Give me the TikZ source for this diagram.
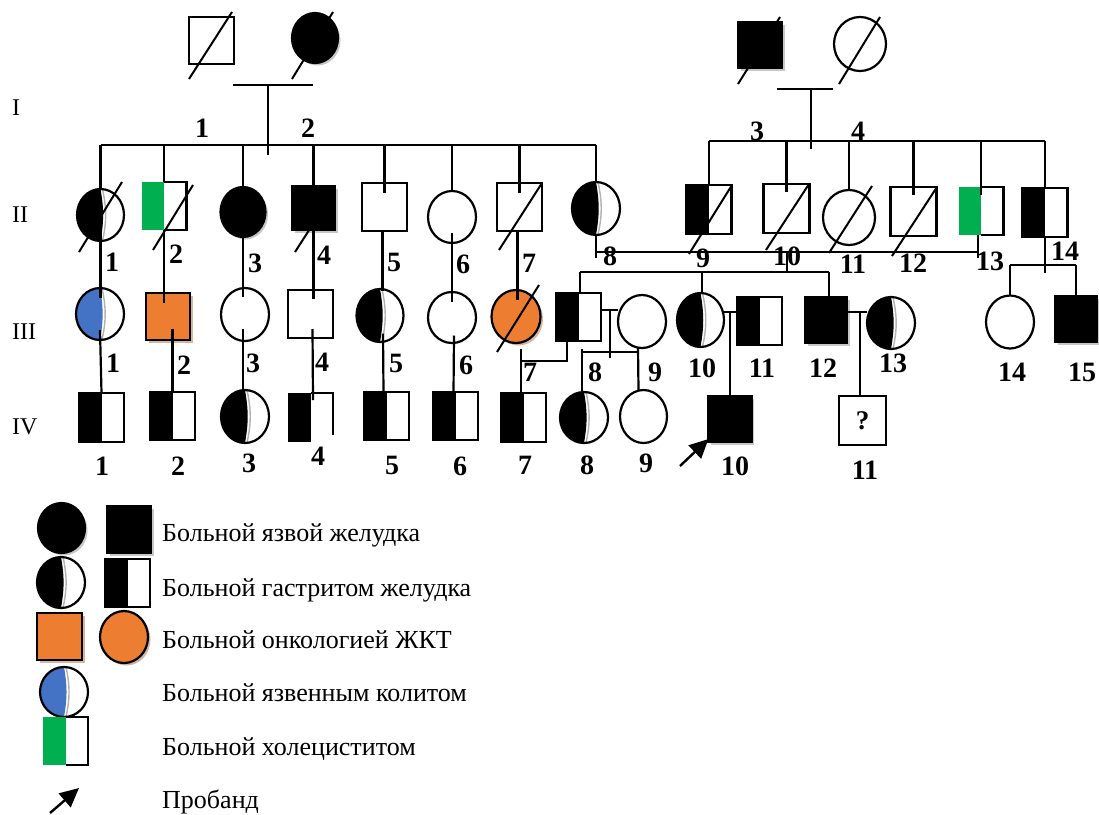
\documentclass[tikz,border=0pt]{standalone}
\usepackage{fontspec}
\setmainfont{Liberation Serif}
\usetikzlibrary{calc,shapes.geometric,shadows,arrows.meta}
\definecolor{orng}{RGB}{237,125,49}
\definecolor{blu}{RGB}{68,114,196}
\definecolor{grn}{RGB}{0,176,80}
\definecolor{shtan}{RGB}{215,182,158}
\tikzset{
  lw/.style={line width=2.2pt},
  ind/.style={draw=black, line width=2.2pt, inner sep=0pt, outer sep=0pt},
  sq/.style={ind, rectangle, minimum width=45pt, minimum height=48pt},
  ci/.style={ind, ellipse, minimum width=48pt, minimum height=52pt},
  shd/.style={general shadow={fill=black!22, shadow xshift=2.5pt, shadow yshift=-2.5pt}},
  shdtan/.style={general shadow={fill=shtan, shadow xshift=2.5pt, shadow yshift=-2.5pt}},
  blk/.style={fill=black, shd},
  org/.style={fill=orng, shdtan},
  half/.style={fill=white, path picture={\fill[black] (path picture bounding box.south west) rectangle (path picture bounding box.north);}},
  gast/.style={fill=white, path picture={
      \fill[#1] (path picture bounding box.north) to[bend left=10] (path picture bounding box.south)
         -- (path picture bounding box.south west) -- (path picture bounding box.north west) -- cycle;
      \draw[black!30, line width=1.4pt] ([xshift=2pt]path picture bounding box.north) to[bend left=12] ([xshift=2pt]path picture bounding box.south);}},
  gast/.default=black,
  grnhalf/.style={rectangle, inner sep=0pt, outer sep=0pt, minimum width=45pt, minimum height=48pt,
      path picture={\fill[grn] (path picture bounding box.south west) rectangle (path picture bounding box.north);}},
  num/.style={font=\bfseries\fontsize{28}{28}\selectfont, inner sep=0pt},
  gen/.style={font=\fontsize{24}{24}\selectfont, inner sep=0pt, anchor=west},
  leg/.style={font=\fontsize{26}{30}\selectfont, inner sep=0pt, anchor=base west},
  slash/.style={line width=2pt},
  prob/.style={line width=2.4pt, -{Triangle[length=19pt,width=18pt]}}
}
\begin{document}
\begin{tikzpicture}[x=1pt,y=-1pt]
\useasboundingbox (0,0) rectangle (1099,814);

% ---------------- Generation I ----------------
\node[sq, minimum width=45pt, minimum height=47pt] (i1) at (211.5,40.5) {};
\node[ci, blk, minimum width=46pt, minimum height=50pt] (i2) at (315,38) {};
\node[sq, blk, minimum width=44pt, minimum height=46pt] (i3) at (760,45) {};
\node[ci, minimum width=52pt, minimum height=54pt] (i4) at (860,44) {};

% ---------------- Generation II ----------------
\node[ci, gast, minimum width=47pt] (ii1) at (100.5,215) {};
\node[grnhalf] (ii2) at (164,206) {};
\node[ci, blk, minimum width=45pt, minimum height=50pt] (ii3) at (243,212) {};
\node[sq, blk, minimum width=43pt, minimum height=44pt] (ii4) at (313.5,208) {};
\node[sq] (ii5) at (384.5,207) {};
\node[ci] (ii6) at (452,217) {};
\node[sq] (ii7) at (519.5,207) {};
\node[ci, gast, minimum height=53pt] (ii8) at (596,208.5) {};
\node[sq, half, minimum height=49pt] (ii9) at (709,209.5) {};
\node[sq, minimum width=46pt, minimum height=49pt] (ii10) at (786.5,208.5) {};
\node[ci, minimum width=52pt, minimum height=55pt] (ii11) at (849,217.5) {};
\node[sq, minimum width=46pt, minimum height=49pt] (ii12) at (913.5,211.5) {};
\node[grnhalf] (ii13) at (981,211) {};
\node[sq, half, minimum height=49pt] (ii14) at (1045,212.5) {};
\draw[lw] (ii2.north) -- (ii2.north east) -- (ii2.south east) -- (ii2.south);
\draw[lw] (ii13.north) -- (ii13.north east) -- (ii13.south east) -- (ii13.south);

% ---------------- Generation III ----------------
\node[ci, gast=blu] (iii1) at (100,314) {};
\node[sq, org, minimum width=44pt, minimum height=47pt] (iii2) at (168,316.5) {};
\node[ci, minimum height=53pt] (iii3) at (245,314.5) {};
\node[sq] (iii4) at (310.5,314) {};
\node[ci, gast, minimum width=47pt, minimum height=53pt] (iii5) at (380,315.5) {};
\node[ci, minimum height=51pt] (iii6) at (452,317.5) {};
\node[ci, org, minimum width=49pt, minimum height=53pt] (iii7) at (516,316.5) {};
\node[sq, half] (iii8) at (578.5,317) {};
\node[ci, minimum height=53pt] (iii9) at (642,321.5) {};
\node[ci, gast, minimum width=47pt, minimum height=54pt] (iii10) at (700.5,320) {};
\node[sq, half] (iii11) at (759.5,321) {};
\node[sq, blk, minimum width=42pt, minimum height=46pt] (iii12) at (826,320) {};
\node[ci, gast] (iii13) at (891,323) {};
\node[ci, minimum height=53pt] (iii14) at (1010,322) {};
\node[sq, blk, minimum width=42pt, minimum height=46pt] (iii15) at (1076,319) {};

% ---------------- Generation IV ----------------
\node[sq, half, minimum height=49pt] (iv1) at (101.5,417.5) {};
\node[sq, half] (iv2) at (172.5,416) {};
\node[ci, gast, minimum height=53pt] (iv3) at (245,416.5) {};
\node[fill=black, inner sep=0pt, outer sep=0pt, minimum width=23pt, minimum height=49pt] (iv4) at (299.5,417.5) {};
\node[sq, half] (iv5) at (386.5,416) {};
\node[sq, half] (iv6) at (455.5,416) {};
\node[sq, half, minimum height=49pt] (iv7) at (523.5,417.5) {};
\node[ci, gast, minimum height=51pt] (iv8) at (584,417.5) {};
\node[ci, minimum width=47pt, minimum height=53pt] (iv9) at (643.5,416.5) {};
\node[sq, blk, minimum width=43pt, minimum height=46pt] (iv10) at (730,419) {};
\node[sq, minimum width=47pt, minimum height=49pt, font=\bfseries\fontsize{27}{27}\selectfont] (iv11) at (862.5,420.5) {?};
\draw[lw] (iv4.north east) -- ++(22,0) -- ++(0,42);

% ---------------- slashes (deceased) ----------------
\draw[slash] (189,79) -- (232,12);
\draw[slash] (292,79) -- (333,12);
\draw[slash] (738,84) -- (780,17);
\draw[slash] (839,84) -- (880,17);
\draw[slash] (79,252) -- (122,182);
\draw[slash] (153,250) -- (193,185);
\draw[slash] (295,252) -- (322,210);
\draw[slash] (499,250) -- (542,183);
\draw[slash] (689,254) -- (732,185);
\draw[slash] (766,250) -- (809,184);
\draw[slash] (829,253) -- (872,186);
\draw[slash] (892,256) -- (937,187);
\draw[slash] (497,352) -- (539,285);

% ---------------- lines: family 1-2 ----------------
\coordinate (c1L) at (233,85);
\coordinate (c1R) at (313,85);
\coordinate (c1m) at (268,85);
\coordinate (c1d) at (268,155);
\draw[lw] (c1L) -- (c1R);
\draw[lw] (c1m) -- (c1d);
\coordinate (s1) at (268,145);
\draw[lw] (ii1 |- s1) -- (ii8 |- s1);
\draw[lw] (ii1 |- s1) -- (ii1.north);
\draw[lw] (ii2 |- s1) -- (ii2.north);
\draw[lw] (ii3 |- s1) -- (ii3.north);
\draw[lw] (ii4 |- s1) -- (ii4.north);
\draw[lw] (ii5 |- s1) -- ($(ii5.north)+(0,10)$);
\draw[lw] (ii6 |- s1) -- (ii6.north);
\draw[lw] (ii7 |- s1) -- ($(ii7.north)+(0,10)$);
\draw[lw] (ii8 |- s1) -- (ii8.north);

% ---------------- lines: family 3-4 ----------------
\coordinate (c2L) at (777,89);
\coordinate (c2R) at (833,89);
\coordinate (c2m) at (811,89);
\coordinate (c2d) at (811,149);
\draw[lw] (c2L) -- (c2R);
\draw[lw] (c2m) -- (c2d);
\coordinate (s2) at (811,141);
\draw[lw] (ii9 |- s2) -- (ii14 |- s2);
\draw[lw] (ii9 |- s2) -- (ii9.north);
\draw[lw] (ii10 |- s2) -- ($(ii10.north)+(0,8)$);
\draw[lw] (ii11 |- s2) -- (ii11.north);
\draw[lw] (ii12 |- s2) -- ($(ii12.north)+(0,8)$);
\draw[lw] (ii13 |- s2) -- ($(ii13.north)+(0,8)$);
\draw[lw] (ii14 |- s2) -- (ii14.north);

% ---------------- II -> III ----------------
\draw[lw] ($(ii1.center)+(0,7)$) -- ($(ii1.center |- iii1.north)+(0,10)$);
\draw[lw] (ii2.south) -- ($(ii2.south |- iii2.north)+(0,10)$);
\draw[lw] (ii3.south) -- ($(ii3.south |- iii3.north)+(0,9)$);
\draw[lw] (ii4.south) -- ($(ii4.south |- iii4.north)+(0,9)$);
\draw[lw] ($(ii5.south)+(-2,0)$) -- ($(ii5.south |- iii5.north)+(-2,2)$);
\draw[lw] ($(ii6.south)+(0,-10)$) -- ($(ii6.south |- iii6.north)+(0,10)$);
\draw[lw] ($(ii7.south)+(-2,0)$) -- ($(ii7.south |- iii7.north)+(-2,10)$);

% II-8 x II-13
\coordinate (m813) at (787,252);
\draw[lw] (ii8.south) -- ++(0,23);
\draw[lw] ($(ii13.south)+(-3,0)$) -- ++(0,23);
\draw[lw] (ii8 |- m813) -- ($(ii13 |- m813)+(-3,0)$);
\coordinate (s3) at (787,272);
\draw[lw] (m813) -- (s3);
\draw[lw] ($(iii8 |- s3)+(1.5,0)$) -- ($(iii12 |- s3)+(3,0)$);
\draw[lw] ($(iii8 |- s3)+(1.5,0)$) -- ($(iii8.north)+(1.5,0)$);
\draw[lw] ($(iii10 |- s3)+(1.5,0)$) -- ($(iii10.north)+(1.5,0)$);
\draw[lw] ($(iii12 |- s3)+(3,0)$) -- ($(iii12.north)+(3,0)$);

% II-14 -> III-14, III-15
\coordinate (s5) at (1045,265);
\draw[lw] (ii14.south) -- ++(0,36);
\draw[lw] (iii14 |- s5) -- (iii15 |- s5);
\draw[lw] (iii14 |- s5) -- (iii14.north);
\draw[lw] (iii15 |- s5) -- (iii15.north);

% ---------------- III -> IV ----------------
\draw[lw] ($(iii1.center)+(0,16)$) -- (iv1.north);
\draw[lw] ($(iii2.center -| iv2.north)+(0,12)$) -- (iv2.north);
\draw[lw] ($(iii3.center)+(-2,14)$) -- ($(iv3.north)+(-2,0)$);
\draw[lw] ($(iii4.center)+(2,15)$) -- ($(iv4.north east)+(2,7)$);
\draw[lw] ($(iii5.center)+(3,18)$) -- ($(iv5.north)+(-3,0)$);
\draw[lw] ($(iii6.center)+(2,18)$) -- ($(iv6.north)+(-2,0)$);

% III-7 x III-8 -> IV-7
\coordinate (m78) at (567,361);
\draw[lw] ($(iii8.south)+(-11.5,0)$) -- (m78) -- ($(iv7 |- m78)+(-2.5,0)$);
\draw[lw] ($(iv7.north)+(-2.5,-44)$) -- ($(iv7.north)+(-2.5,0)$);

% III-8 x III-9 -> IV-8, IV-9
\coordinate (m89) at (610,310);
\draw[lw] (iii8.east |- m89) -- (iii9.west |- m89);
\draw[lw] (m89) -- (610,358);
\coordinate (s4) at (610,352);
\draw[lw] ($(iv8 |- s4)+(-2,0)$) -- ($(iv9 |- s4)+(-5,0)$);
\draw[lw] ($(iv8 |- s4)+(-2,-3)$) -- ($(iv8.north)+(-2,0)$);
\draw[lw] ($(iii9.south)+(-4,0)$) -- ($(iv9.north)+(-5,0)$);

% III-10 x III-11 -> IV-10
\coordinate (m1011) at (730,312);
\draw[lw] (iii10.east |- m1011) -- (iii11.west |- m1011);
\draw[lw] (m1011) -- (iv10.north);

% III-12 x III-13 -> IV-11
\coordinate (m1213) at (860,312);
\draw[lw] (iii12.east |- m1213) -- (iii13.west |- m1213);
\draw[lw] (m1213) -- (iv11.north -| m1213);

% proband arrow
\coordinate (pa) at (680,466);
\draw[prob] (pa) -- ($(iv10.south west)+(0,-3)$);

% ---------------- generation numerals ----------------
\node[gen] (gI) at (12,108) {I};
\node[gen] (gII) at (12,215) {II};
\node[gen] (gIII) at (12,332) {III};
\node[gen] (gIV) at (12,427) {IV};

% ---------------- numbers ----------------
\node[num] (n1a) at (202,128) {1};
\node[num] (n1b) at (308,128) {2};
\node[num] (n1c) at (757,131) {3};
\node[num] (n1d) at (858,131) {4};

\node[num] (n2a) at (112,262) {1};
\node[num] (n2b) at (176,254) {2};
\node[num] (n2c) at (255,263) {3};
\node[num] (n2d) at (324,255) {4};
\node[num] (n2e) at (394,262) {5};
\node[num] (n2f) at (463,264) {6};
\node[num] (n2g) at (529,263) {7};
\node[num] (n2h) at (610,256) {8};
\node[num] (n2i) at (703,258) {9};
\node[num] (n2j) at (787,256) {10};
\node[num] (n2k) at (853,264) {11};
\node[num] (n2l) at (913,263) {12};
\node[num] (n2m) at (990,261) {13};
\node[num] (n2n) at (1065,251) {14};

\node[num] (n3a) at (113,363) {1};
\node[num] (n3b) at (184,365) {2};
\node[num] (n3c) at (253,363) {3};
\node[num] (n3d) at (322,362) {4};
\node[num] (n3e) at (396,363) {5};
\node[num] (n3f) at (466,365) {6};
\node[num] (n3g) at (530,372) {7};
\node[num] (n3h) at (595,372) {8};
\node[num] (n3i) at (655,372) {9};
\node[num] (n3j) at (702,368) {10};
\node[num] (n3k) at (762,368) {11};
\node[num] (n3l) at (823,368) {12};
\node[num] (n3m) at (893,363) {13};
\node[num] (n3n) at (1012,372) {14};
\node[num] (n3o) at (1082,372) {15};

\node[num] (n4a) at (102,466) {1};
\node[num] (n4b) at (178,466) {2};
\node[num] (n4c) at (249,463) {3};
\node[num] (n4d) at (318,456) {4};
\node[num] (n4e) at (392,465) {5};
\node[num] (n4f) at (460,466) {6};
\node[num] (n4g) at (525,465) {7};
\node[num] (n4h) at (587,465) {8};
\node[num] (n4i) at (646,463) {9};
\node[num] (n4j) at (735,466) {10};
\node[num] (n4k) at (865,470) {11};

% ---------------- legend ----------------
\node[ci, blk, minimum width=47pt, minimum height=50pt] (l1c) at (61.5,528) {};
\node[sq, blk, minimum width=44pt, minimum height=47pt] (l1s) at (129,529.5) {};
\node[ci, gast, minimum height=51pt] (l2c) at (61,582.5) {};
\node[sq, half] (l2s) at (127.5,583) {};
\node[sq, org, minimum height=47pt] (l3s) at (59.5,636.5) {};
\node[ci, org] (l3c) at (124,637) {};
\node[ci, gast=blu, minimum height=50pt] (l4c) at (64,692) {};
\node[grnhalf] (l5s) at (65.5,741) {};
\draw[lw] (l5s.north) -- (l5s.north east) -- (l5s.south east) -- (l5s.south);
\coordinate (la1) at (50,813);
\coordinate (la2) at (79,788);
\draw[prob] (la1) -- (la2);

\node[leg] (t1) at (162,541.5) {Больной язвой желудка};
\node[leg] (t2) at (162,596.5) {Больной гастритом желудка};
\node[leg] (t3) at (162,648.5) {Больной онкологией ЖКТ};
\node[leg] (t4) at (162,701.5) {Больной язвенным колитом};
\node[leg] (t5) at (162,755.5) {Больной холециститом};
\node[leg] (t6) at (162,808.5) {Пробанд};
\end{tikzpicture}
\end{document}
